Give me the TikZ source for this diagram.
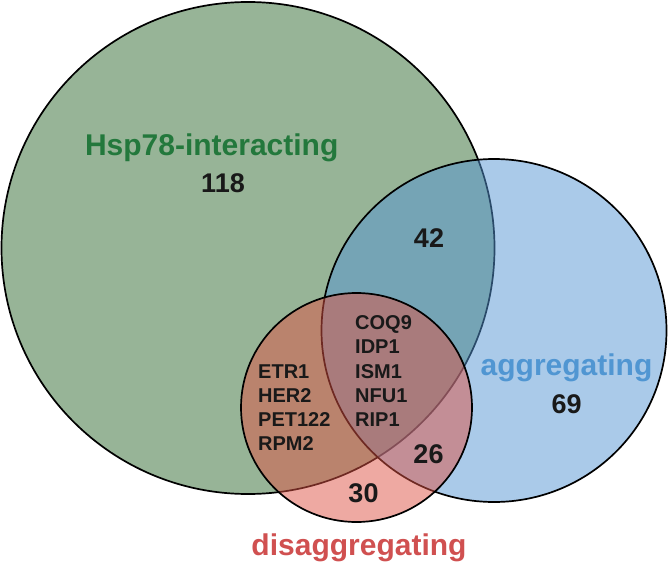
\documentclass[tikz,border=0pt]{standalone}
\usepackage{fontspec}
\setmainfont{Liberation Sans}
\definecolor{gfill}{RGB}{151,180,151}
\definecolor{bfill}{RGB}{85,149,211}
\definecolor{rfill}{RGB}{221,83,69}
\definecolor{gtext}{RGB}{35,120,60}
\definecolor{btext}{RGB}{80,150,210}
\definecolor{rtext}{RGB}{208,80,80}
\tikzset{
  setcirc/.style={draw=black, line width=1.7pt},
  titletext/.style={font=\fontsize{30}{36}\selectfont\bfseries, anchor=base, inner sep=0pt},
  numtext/.style={font=\fontsize{27}{32}\selectfont\bfseries, anchor=base, inner sep=0pt, text=black!90},
  genetext/.style={font=\fontsize{20}{24}\selectfont\bfseries, anchor=base west, inner sep=0pt, text=black!90},
}
\begin{document}
\begin{tikzpicture}[x=1pt,y=-1pt]
\useasboundingbox (0,0) rectangle (668,569);
% circles
\draw[setcirc, fill=gfill] (248,248) ellipse [x radius=246.5pt, y radius=246pt];
\draw[setcirc, fill=bfill, fill opacity=0.5] (494,330.5) ellipse [x radius=172.5pt, y radius=171.5pt];
\draw[setcirc, fill=rfill, fill opacity=0.5] (356.5,407.5) ellipse [x radius=115.5pt, y radius=114.5pt];
% set labels
\node[titletext, text=gtext] (tg) at (211.7,156) {Hsp78-interacting};
\node[titletext, text=btext] (tb) at (566.5,375) {aggregating};
\node[titletext, text=rtext] (tr) at (359,555) {disaggregating};
% counts
\node[numtext] (n118) at (223,192.7) {118};
\node[numtext] (n42) at (429,247) {42};
\node[numtext] (n69) at (566.7,413) {69};
\node[numtext] (n30) at (363.5,502) {30};
\node[numtext] (n26) at (428.5,463) {26};
% gene lists
\node[genetext] (e1) at (258,378) {ETR1};
\node[genetext] (e2) at (258,402.3) {HER2};
\node[genetext] (e3) at (258,426.6) {PET122};
\node[genetext] (e4) at (258,450.9) {RPM2};
\node[genetext] (c1) at (355,329.4) {COQ9};
\node[genetext] (c2) at (355,353.7) {IDP1};
\node[genetext] (c3) at (355,378) {ISM1};
\node[genetext] (c4) at (355,402.3) {NFU1};
\node[genetext] (c5) at (355,426.6) {RIP1};
\end{tikzpicture}
\end{document}
